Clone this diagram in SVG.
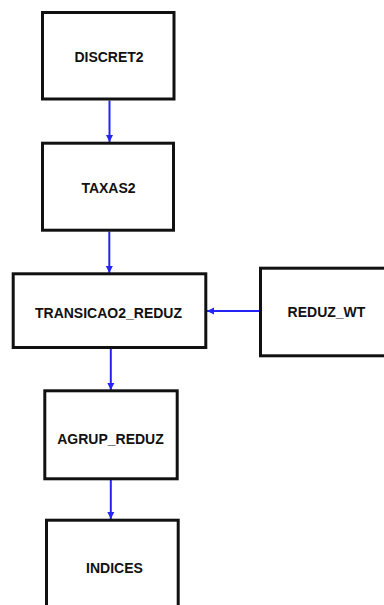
<svg xmlns="http://www.w3.org/2000/svg" width="384" height="605" viewBox="0 0 384 605">
  <style>
    .box { fill: #ffffff; stroke: #111111; stroke-width: 3; }
    .lbl { font-family: "Liberation Sans", Arial, sans-serif; font-weight: bold; font-size: 14px; fill: #111111; text-anchor: middle; }
    .edge { stroke: #2424f4; stroke-width: 2; fill: none; marker-end: url(#head); }
  </style>
  <defs>
    <marker id="head" markerUnits="userSpaceOnUse" markerWidth="8" markerHeight="8" viewBox="0 0 8 8" refX="7" refY="4" orient="auto">
      <path d="M0,0.5 L7,4 L0,7.5 Z" fill="#2424f4"/>
    </marker>
  </defs>
  <rect width="384" height="605" fill="#ffffff"/>

  <g id="connectors">
    <line class="edge" x1="109.5" y1="100.5" x2="109.5" y2="142"/>
    <line class="edge" x1="109.3" y1="231.5" x2="109.3" y2="273"/>
    <line class="edge" x1="110.8" y1="349" x2="110.8" y2="390"/>
    <line class="edge" x1="110.8" y1="480" x2="110.8" y2="519"/>
    <line class="edge" x1="259" y1="311" x2="207" y2="311"/>
  </g>

  <g id="discret2">
    <rect class="box" x="42.5" y="12.5" width="131.5" height="86.5"/>
    <text class="lbl" x="109" y="62">DISCRET2</text>
  </g>

  <g id="taxas2">
    <rect class="box" x="42.5" y="143.2" width="131" height="87"/>
    <text class="lbl" x="108.5" y="193">TAXAS2</text>
  </g>

  <g id="transicao2_reduz">
    <rect class="box" x="13.2" y="273.8" width="192.6" height="73.7"/>
    <text class="lbl" x="108.5" y="318">TRANSICAO2_REDUZ</text>
  </g>

  <g id="reduz_wt">
    <rect class="box" x="260.5" y="268.2" width="131" height="87.6"/>
    <text class="lbl" x="326.5" y="317">REDUZ_WT</text>
  </g>

  <g id="agrup_reduz">
    <rect class="box" x="44.8" y="390.8" width="132.4" height="88"/>
    <text class="lbl" x="110.5" y="444">AGRUP_REDUZ</text>
  </g>

  <g id="indices">
    <rect class="box" x="46.5" y="520.2" width="131.7" height="95"/>
    <text class="lbl" x="114.5" y="573">INDICES</text>
  </g>
</svg>
